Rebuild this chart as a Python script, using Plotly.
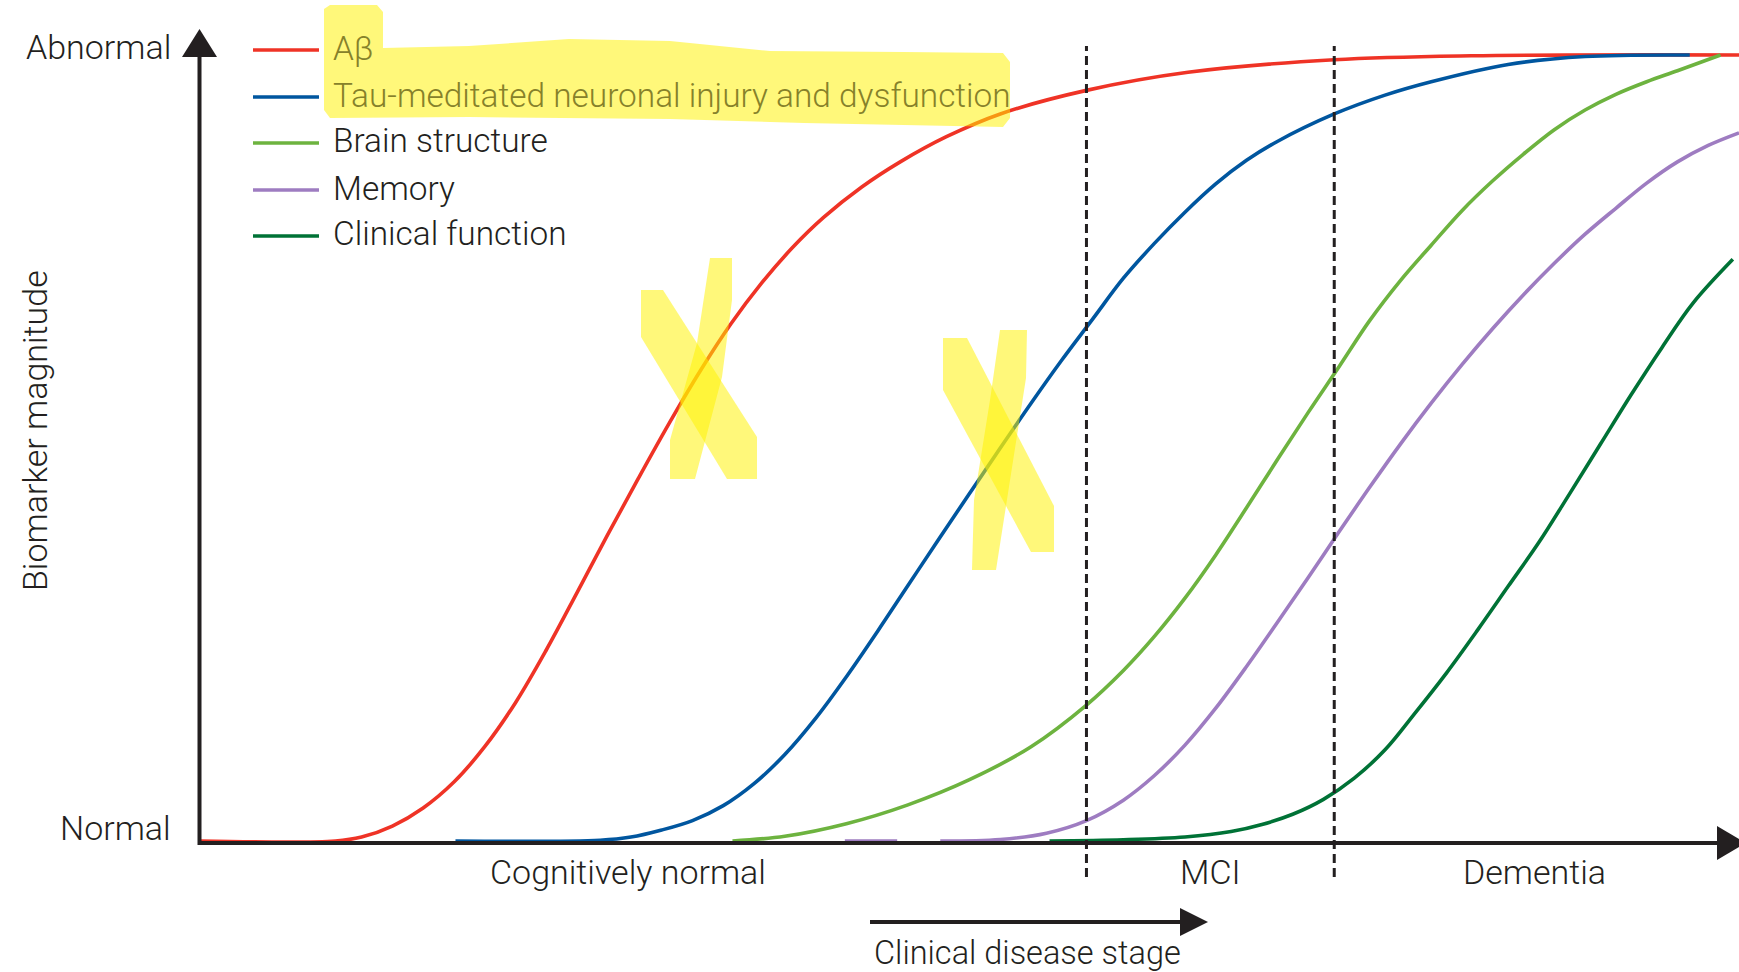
import plotly.graph_objects as go

# ---------------- data ----------------
series_names = [
    "Aβ",
    "Tau-meditated neuronal injury and dysfunction",
    "Brain structure",
    "Memory",
    "Clinical function",
]
series_colors = ["#EF3326", "#00569F", "#6DB33F", "#9E7CC1", "#007236"]

# x: disease progression (0 = y-axis, 100 = end of x-axis arrow)
# y: biomarker magnitude (0 = normal, 100 = abnormal)
abeta_x = [0, 8.8, 10.5, 12.5, 14.5, 16.5, 18.5, 20.5, 22.5, 24.5, 26.5, 28.5, 30.5, 32.5,
           34.5, 36.5, 38.5, 40.5, 43.0, 45.5, 48.5, 52.0, 57.6, 64.2, 73.7, 82.6, 100]
abeta_y = [0, 0, 0.5, 1.9, 4.2, 7.5, 12.0, 17.6, 24.3, 31.6, 39.0, 46.2, 53.2, 59.8,
           65.8, 71.0, 75.5, 79.3, 83.2, 86.4, 89.6, 92.5, 95.5, 97.8, 99.4, 99.9, 100]

tau_x = [16.6, 26, 28, 30, 32, 34, 36, 38, 40, 42, 44, 46, 48, 50, 52, 54, 56, 58, 60, 62,
         64, 66, 68, 70, 73.7, 77, 80, 85, 90, 96.8]
tau_y = [0, 0.1, 0.5, 1.4, 2.6, 4.5, 7.3, 11.0, 15.6, 20.9, 26.6, 32.5, 38.4, 44.2, 50.0,
         55.7, 61.2, 66.4, 71.6, 76.0, 80.0, 83.6, 86.6, 89.0, 92.5, 94.9, 96.6, 98.8,
         99.8, 100]

brain_x = [34.6, 38, 42, 46, 50, 54, 57.6, 60, 62, 64, 66, 68, 70, 72, 74, 76, 78, 80, 82,
           84, 86, 88, 90, 92, 94, 96, 98.8]
brain_y = [0, 0.6, 2.2, 4.6, 7.8, 12.0, 17.3, 21.7, 26.0, 30.9, 36.4, 42.4, 48.5, 54.5,
           60.3, 66.2, 71.3, 75.8, 80.2, 84.0, 87.4, 90.5, 93.0, 95.0, 96.6, 98.0, 100]

memory_x = [41.9, 45.3, None, 48.1, 52, 55, 57.6, 60, 62, 64, 66, 68, 70, 72, 74, 76, 78,
            80, 82, 84, 86, 88, 90, 92, 94, 96, 98, 100]
memory_y = [0, 0, None, 0, 0.2, 1.0, 2.6, 5.2, 8.3, 12.2, 16.9, 22.2, 27.8, 33.5, 39.3,
            45.0, 50.5, 55.7, 60.6, 65.2, 69.5, 73.5, 77.2, 80.5, 83.7, 86.4, 88.5, 90.1]

clinical_x = [55.2, 60, 64, 67, 69, 71, 73, 75, 77, 79, 81, 83, 85, 87, 89, 91, 93, 95, 97,
              99.6]
clinical_y = [0, 0.15, 0.5, 1.2, 2.1, 3.4, 5.3, 8.0, 11.6, 16.4, 21.4, 26.8, 32.4, 38.0,
              44.2, 50.5, 56.8, 62.8, 68.4, 74.0]

series_x = [abeta_x, tau_x, brain_x, memory_x, clinical_x]
series_y = [abeta_y, tau_y, brain_y, memory_y, clinical_y]

stage_bounds = [57.6, 73.7]
stage_labels = ["Cognitively normal", "MCI", "Dementia"]
y_tick_labels = ["Abnormal", "Normal"]
y_title = "Biomarker magnitude"
x_note = "Clinical disease stage"

# ---------------- layout geometry ----------------
W, H = 1739, 972
X0_PX, XSCALE = 200.0, 15.39   # pixel of x=0, pixels per x unit
Y0_PX, YSCALE = 841.0, 7.86    # pixel of y=0, pixels per y unit
INK = "#231F20"
FONT = "Roboto, Liberation Sans, sans-serif"
FS = 34
FW = 300


def px(x):
    return x / W


def py(y):
    return 1 - y / H


def tfont(color=INK, size=FS):
    return dict(family=FONT, size=size, color=color, weight=FW)


fig = go.Figure()
for name, xs, ys, col in zip(series_names, series_x, series_y, series_colors):
    fig.add_trace(go.Scatter(
        x=xs, y=ys, name=name, mode="lines",
        line=dict(color=col, width=3.6, shape="spline", smoothing=1.0),
        showlegend=False, hoverinfo="name",
    ))

shapes = []
annotations = []

# axes with arrowheads
shapes.append(dict(type="line", xref="paper", yref="paper",
                   x0=px(199.5), x1=px(199.5), y0=py(845), y1=py(52),
                   line=dict(color=INK, width=4)))
shapes.append(dict(type="path", xref="paper", yref="paper",
                   path=f"M {px(182)} {py(57)} L {px(199.5)} {py(29)} L {px(217)} {py(57)} Z",
                   fillcolor=INK, line=dict(width=0)))
shapes.append(dict(type="line", xref="paper", yref="paper",
                   x0=px(198), x1=px(1720), y0=py(843), y1=py(843),
                   line=dict(color=INK, width=4)))
shapes.append(dict(type="path", xref="paper", yref="paper",
                   path=f"M {px(1717)} {py(826)} L {px(1746)} {py(843)} L {px(1717)} {py(860)} Z",
                   fillcolor=INK, line=dict(width=0)))

# stage boundaries
for b in stage_bounds:
    shapes.append(dict(type="line", xref="x", yref="paper",
                       x0=b, x1=b, y0=py(877), y1=py(46),
                       line=dict(color=INK, width=3, dash="9px,5px")))

# clinical disease stage arrow
shapes.append(dict(type="line", xref="paper", yref="paper",
                   x0=px(870), x1=px(1185), y0=py(922), y1=py(922),
                   line=dict(color=INK, width=4)))
shapes.append(dict(type="path", xref="paper", yref="paper",
                   path=f"M {px(1180)} {py(908)} L {px(1208)} {py(922)} L {px(1180)} {py(936)} Z",
                   fillcolor=INK, line=dict(width=0)))

# legend (custom, drawn from series names/colours)
legend_rows = [50, 97, 143, 190, 236]
for name, col, ry in zip(series_names, series_colors, legend_rows):
    shapes.append(dict(type="line", xref="paper", yref="paper",
                       x0=px(253), x1=px(319), y0=py(ry), y1=py(ry),
                       line=dict(color=col, width=3.4)))
highlighted = {series_names[0], series_names[1]}
for name, ry in zip(series_names, legend_rows):
    annotations.append(dict(text=name, xref="paper", yref="paper",
                            x=px(331), y=py(ry - 2), xanchor="left", yanchor="middle",
                            showarrow=False,
                            font=tfont("#86812A" if name in highlighted else INK, 33.4)))

# y labels
annotations.append(dict(text=y_tick_labels[0], xref="paper", yref="paper",
                        x=px(173), y=py(47), xanchor="right", yanchor="middle",
                        showarrow=False, font=tfont()))
annotations.append(dict(text=y_tick_labels[1], xref="paper", yref="paper",
                        x=px(173), y=py(828), xanchor="right", yanchor="middle",
                        showarrow=False, font=tfont()))
annotations.append(dict(text=y_title, xref="paper", yref="paper",
                        x=px(35), y=py(431), xanchor="center", yanchor="middle",
                        textangle=-90, showarrow=False, font=tfont()))

# stage labels
stage_label_x = [27.8, (stage_bounds[0] + stage_bounds[1]) / 2, 86.7]
for lab, lx in zip(stage_labels, stage_label_x):
    annotations.append(dict(text=lab, xref="x", yref="paper", x=lx, y=py(872),
                            xanchor="center", yanchor="middle", showarrow=False,
                            font=tfont()))
annotations.append(dict(text=x_note, xref="paper", yref="paper",
                        x=px(1027), y=py(953), xanchor="center", yanchor="middle",
                        showarrow=False, font=tfont(size=32.5)))

# yellow highlighter marks (decoration in the reference)
HL = "#FFF200"


def poly(points):
    return "M " + " L ".join(f"{px(a)} {py(b)}" for a, b in points) + " Z"


highlights = [
    [(324, 9), (330, 5), (377, 5), (383, 12), (383, 48), (469, 46), (569, 39), (670, 41),
     (770, 51), (904, 52), (1003, 53), (1010, 62), (1010, 118), (1003, 127), (804, 123),
     (670, 119), (469, 117), (330, 118), (324, 110)],
    [(710, 258), (732, 258), (732, 300), (722, 377), (695, 479), (670, 479), (670, 440),
     (697, 343)],
    [(641, 290), (663, 290), (757, 437), (757, 479), (727, 479), (641, 337)],
    [(1000, 330), (1027, 330), (1026, 378), (996, 570), (972, 570), (974, 500), (990, 400)],
    [(943, 338), (967, 338), (1054, 506), (1054, 552), (1031, 552), (943, 390)],
]
for pts in highlights:
    shapes.append(dict(type="path", xref="paper", yref="paper", path=poly(pts),
                       fillcolor=HL, opacity=0.52, line=dict(width=0), layer="above"))

fig.update_layout(
    width=W, height=H,
    margin=dict(l=0, r=0, t=0, b=0),
    paper_bgcolor="white", plot_bgcolor="white",
    font=dict(family=FONT, color=INK),
    xaxis=dict(range=[-X0_PX / XSCALE, (W - X0_PX) / XSCALE], visible=False, fixedrange=True),
    yaxis=dict(range=[(Y0_PX - H) / YSCALE, Y0_PX / YSCALE], visible=False, fixedrange=True),
    shapes=shapes, annotations=annotations,
    showlegend=False,
)

fig.write_html(
    "out.html",
    config={"displayModeBar": False},
    post_script="document.body.style.margin='0';document.body.style.overflow='hidden';",
)
